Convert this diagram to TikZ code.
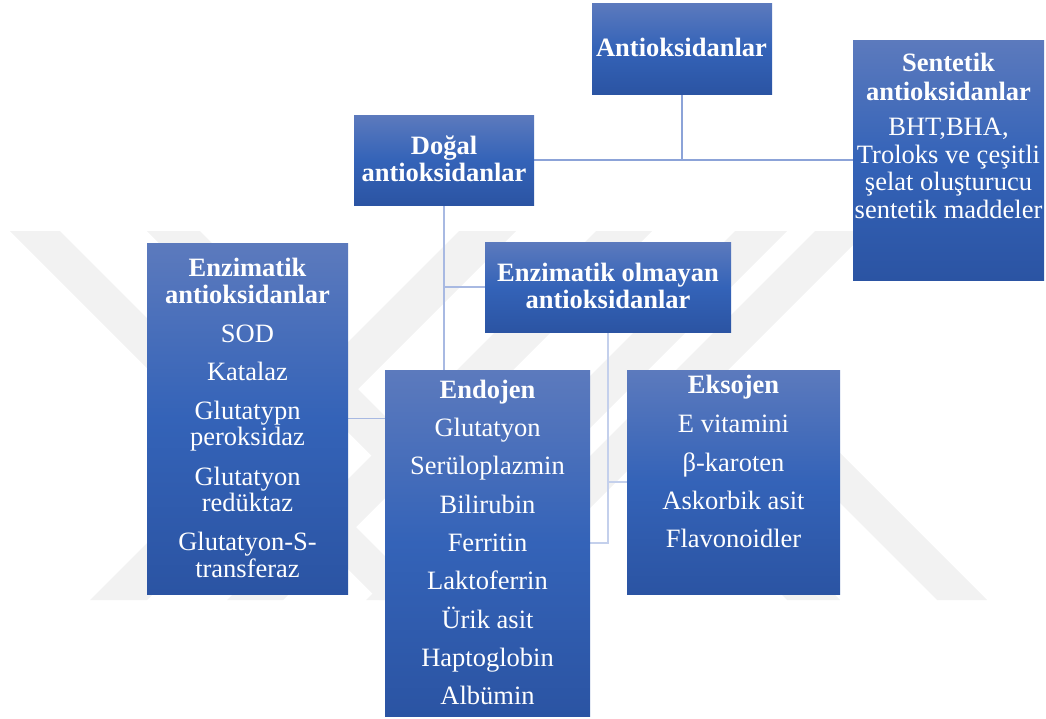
\documentclass[tikz,border=0pt]{standalone}
\usepackage{fontspec}
\setmainfont{Liberation Serif}
\definecolor{boxtop}{RGB}{92,122,189}
\definecolor{boxmid}{RGB}{52,99,184}
\definecolor{boxbot}{RGB}{43,84,163}
\definecolor{wm}{RGB}{242,242,242}
\definecolor{lineA}{RGB}{140,163,216}
\definecolor{lineB}{RGB}{168,185,226}
\definecolor{lineC}{RGB}{196,208,236}
\pgfdeclarelayer{wmk}
\pgfdeclarelayer{bg}
\pgfsetlayers{wmk,bg,main}
\begin{document}
\begin{tikzpicture}[x=1pt,y=-1pt,
  box/.style={rectangle, draw=none, top color=boxtop, bottom color=boxbot, middle color=boxmid, inner sep=0pt, outer sep=0pt, anchor=north west},
  ttl/.style={font=\fontsize{26.5}{28}\selectfont\bfseries, text=white, anchor=base, inner sep=0pt},
  itm/.style={font=\fontsize{26.5}{28}\selectfont, text=white, anchor=base, inner sep=0pt},
  conA/.style={draw=lineA, line width=2pt},
  conB/.style={draw=lineB, line width=1.8pt},
  conC/.style={draw=lineC, line width=1.8pt},
  wmband/.style={fill=wm, draw=none}
]
\useasboundingbox (0,0) rectangle (1046,718);

% boxes
\node[box, minimum width=180pt, minimum height=91pt] (anti) at (592,3) {};
\node[box, minimum width=180pt, minimum height=90pt] (dogal) at (354,115) {};
\node[box, minimum width=191pt, minimum height=240pt] (sent) at (853,40) {};
\node[box, minimum width=201pt, minimum height=351pt] (enz) at (147,243) {};
\node[box, minimum width=246pt, minimum height=90pt] (olm) at (485,242) {};
\node[box, minimum width=205pt, minimum height=346pt] (endo) at (385,370) {};
\node[box, minimum width=213pt, minimum height=224pt] (eks) at (627,370) {};

% watermark
\begin{pgfonlayer}{wmk}
\fill[wmband] (10,231) -- (60,231) -- (429,600) -- (379,600) -- cycle;
\fill[wmband] (147,231) -- (200,231) -- (569,600) -- (516,600) -- cycle;
\fill[wmband] (90,600) -- (147,600) -- (516,231) -- (459,231) -- cycle;
\fill[wmband] (227,600) -- (283,600) -- (652,231) -- (596,231) -- cycle;
\fill[wmband] (735,231) -- (787,231) -- (418,600) -- (366,600) -- cycle;
\fill[wmband] (815,231) -- (867,231) -- (498,600) -- (446,600) -- cycle;
\fill[wmband] (757,420) -- (807,420) -- (987,600) -- (937,600) -- cycle;
\fill[wmband] (727,540) -- (780,540) -- (840,600) -- (787,600) -- cycle;
\end{pgfonlayer}

% connectors
\begin{pgfonlayer}{bg}
\draw[conA] (anti.south) |- (dogal.east);
\draw[conA] (anti.south) |- (sent.west);
\draw[conB] (dogal.south) |- (enz.east);
\draw[conB] (dogal.south) |- (olm.west);
\draw[conC] (olm.south) |- (endo.east);
\draw[conC] (olm.south) |- (eks.west);
\end{pgfonlayer}

% texts
\node[ttl] (anti-t1) at (681.5,56.7) {Antioksidanlar};

\node[ttl] (dogal-t1) at (444,154.3) {Doğal};
\node[ttl] (dogal-t2) at (444,181.7) {antioksidanlar};

\node[ttl] (sent-t1) at (948.5,71.7) {Sentetik};
\node[ttl] (sent-t2) at (948.5,100) {antioksidanlar};
\node[itm] (sent-t3) at (948.5,135) {BHT,BHA,};
\node[itm] (sent-t4) at (948.5,163.3) {Troloks ve çeşitli};
\node[itm] (sent-t5) at (948.5,190) {şelat oluşturucu};
\node[itm] (sent-t6) at (948.5,218.3) {sentetik maddeler};

\node[ttl] (enz-t1) at (247.5,276) {Enzimatik};
\node[ttl] (enz-t2) at (247.5,303) {antioksidanlar};
\node[itm] (enz-t3) at (247.5,342.3) {SOD};
\node[itm] (enz-t4) at (247.5,380.5) {Katalaz};
\node[itm] (enz-t5) at (247.5,419.3) {Glutatypn};
\node[itm] (enz-t6) at (247.5,445.5) {peroksidaz};
\node[itm] (enz-t7) at (247.5,485) {Glutatyon};
\node[itm] (enz-t8) at (247.5,511.7) {redüktaz};
\node[itm] (enz-t9) at (247.5,550) {Glutatyon-S-};
\node[itm] (enz-t10) at (247.5,577.3) {transferaz};

\node[ttl] (olm-t1) at (608,281) {Enzimatik olmayan};
\node[ttl] (olm-t2) at (608,308.5) {antioksidanlar};

\node[ttl] (endo-t1) at (487.5,398.3) {Endojen};
\node[itm] (endo-t2) at (487.5,436.7) {Glutatyon};
\node[itm] (endo-t3) at (487.5,474.3) {Serüloplazmin};
\node[itm] (endo-t4) at (487.5,513) {Bilirubin};
\node[itm] (endo-t5) at (487.5,551.5) {Ferritin};
\node[itm] (endo-t6) at (487.5,589.5) {Laktoferrin};
\node[itm] (endo-t7) at (487.5,628) {Ürik asit};
\node[itm] (endo-t8) at (487.5,666) {Haptoglobin};
\node[itm] (endo-t9) at (487.5,704.3) {Albümin};

\node[ttl] (eks-t1) at (733.5,393.3) {Eksojen};
\node[itm] (eks-t2) at (733.5,432.7) {E vitamini};
\node[itm] (eks-t3) at (733.5,471) {β-karoten};
\node[itm] (eks-t4) at (733.5,509.5) {Askorbik asit};
\node[itm] (eks-t5) at (733.5,547.7) {Flavonoidler};
\end{tikzpicture}
\end{document}
